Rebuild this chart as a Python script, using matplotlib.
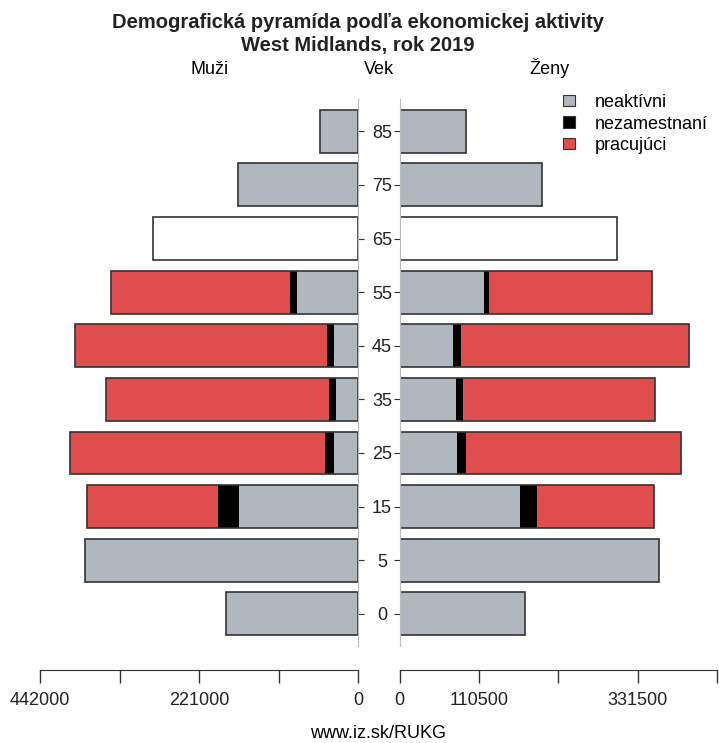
import matplotlib
matplotlib.use("Agg")
import matplotlib.pyplot as plt
from matplotlib.patches import Patch

plt.rcParams["font.family"] = ["Liberation Sans", "DejaVu Sans"]

ages = ["0", "5", "15", "25", "35", "45", "55", "65", "75", "85"]

# muži
men_inactive = [183300, 379100, 165700, 33300, 30500, 33300, 84700, 0, 166600, 52800]
men_unemployed = [0, 0, 29600, 13300, 9700, 10600, 10100, 0, 0, 0]
men_employed = [0, 0, 181100, 354100, 310500, 349500, 248600, 0, 0, 0]
men_total_only = [0, 0, 0, 0, 0, 0, 0, 284700, 0, 0]

# ženy
women_inactive = [174400, 361100, 167900, 80000, 78500, 74000, 117900, 0, 199000, 92600]
women_unemployed = [0, 0, 23200, 12900, 9700, 11500, 6500, 0, 0, 0]
women_employed = [0, 0, 163000, 298400, 267900, 317000, 227000, 0, 0, 0]
women_total_only = [0, 0, 0, 0, 0, 0, 0, 302900, 0, 0]

series_labels = ["neaktívni", "nezamestnaní", "pracujúci"]
x_max = 442000
left_ticks = [442000, 331500, 221000, 110500, 0]
left_labels = ["442000", "", "221000", "", "0"]
right_ticks = [0, 110500, 221000, 331500, 442000]
right_labels = ["0", "110500", "", "331500", ""]

GREY = "#b0b7be"
RED = "#e04d4d"
BLACK = "#000000"
EDGE = "#333333"
FS = 13

W, H = 719, 743
fig = plt.figure(figsize=(W / 100, H / 100), dpi=100)

ax_top, ax_bottom = 95, 670
y_bottom = -(ax_bottom - 613.8) / 53.6
y_top = 9 + (131.3 - ax_top) / 53.6


def add_panel(x0, x1):
    return fig.add_axes([x0 / W, (H - ax_bottom) / H, (x1 - x0) / W, (ax_bottom - ax_top) / H])


ax_l = add_panel(40, 358.3)
ax_r = add_panel(399.5, 717)
pos = list(range(len(ages)))


def draw_bars(ax, inactive, unemployed, employed, total_only):
    kw = dict(height=0.8, edgecolor=EDGE, linewidth=1.2)
    for i in pos:
        if total_only[i]:
            ax.barh(i, total_only[i], color="white", **kw)
            continue
        left = 0
        for val, col in zip([inactive[i], unemployed[i], employed[i]], [GREY, BLACK, RED]):
            if val:
                ax.barh(i, val, left=left, color=col, linewidth=0, height=0.8)
                left += val
        ax.barh(i, left, fill=False, **kw)


draw_bars(ax_l, men_inactive, men_unemployed, men_employed, men_total_only)
draw_bars(ax_r, women_inactive, women_unemployed, women_employed, women_total_only)

ax_l.set_xlim(x_max, 0)
ax_r.set_xlim(0, x_max)

for ax, ticks, labels in [(ax_l, left_ticks, left_labels), (ax_r, right_ticks, right_labels)]:
    ax.set_ylim(y_bottom, y_top)
    ax.set_xticks(ticks)
    ax.set_xticklabels(labels, fontsize=FS, color="#222222")
    ax.tick_params(axis="x", length=9, width=1, color=EDGE, pad=7)
    ax.spines["top"].set_visible(False)
    ax.spines["bottom"].set_bounds(0, x_max)
    ax.spines["bottom"].set_color(EDGE)

ax_l.spines["left"].set_visible(False)
ax_r.spines["right"].set_visible(False)
ax_l.spines["right"].set_color("#bbbbbb")
ax_r.spines["left"].set_color("#bbbbbb")
ax_l.spines["right"].set_bounds(-0.6, 9.6)
ax_r.spines["left"].set_bounds(-0.6, 9.6)

ax_l.yaxis.tick_right()
ax_l.set_yticks(pos)
ax_l.set_yticklabels(ages, fontsize=FS, ha="center", color="#222222")
ax_l.tick_params(axis="y", length=4, color=EDGE, pad=13)
ax_r.set_yticks(pos)
ax_r.set_yticklabels([])
ax_r.tick_params(axis="y", length=4, color=EDGE)

fig.text(358 / W, 1 - 22 / H, "Demografická pyramída podľa ekonomickej aktivity",
         ha="center", va="center", fontsize=14.5, fontweight="bold", color="#222222")
fig.text(358 / W, 1 - 46 / H, "West Midlands, rok 2019",
         ha="center", va="center", fontsize=14.5, fontweight="bold", color="#222222")
fig.text(210 / W, 1 - 74 / H, "Muži", ha="center", va="baseline", fontsize=FS)
fig.text(379 / W, 1 - 74 / H, "Vek", ha="center", va="baseline", fontsize=FS)
fig.text(549 / W, 1 - 74 / H, "Ženy", ha="center", va="baseline", fontsize=FS)
fig.text(378 / W, 1 - 733 / H, "www.iz.sk/RUKG", ha="center", va="center", fontsize=FS)

handles = [Patch(facecolor=c, edgecolor=EDGE, linewidth=0.8) for c in [GREY, BLACK, RED]]
fig.legend(handles, series_labels, loc="upper left", bbox_to_anchor=(563 / W, 1 - 94 / H),
           frameon=False, fontsize=FS, handlelength=0.65, handleheight=0.6,
           handletextpad=1.1, labelspacing=0.25, borderpad=0, borderaxespad=0)

fig.savefig("out.png", dpi=100)
